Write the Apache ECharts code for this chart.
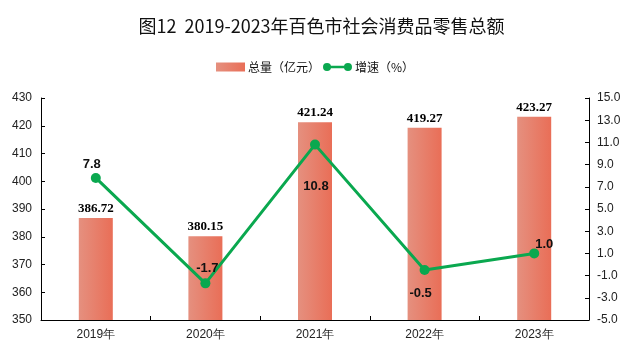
<!DOCTYPE html>
<html>
<head>
<meta charset="utf-8">
<script src="https://cdn.jsdelivr.net/npm/echarts@6/dist/echarts.min.js"></script>
<style>html,body{margin:0;padding:0;background:#fff}#c{width:643px;height:356px}</style>
</head>
<body>
<div id="c"></div>
<script>
var titleText = '图12  2019-2023年百色市社会消费品零售总额';
var categories = ['2019年', '2020年', '2021年', '2022年', '2023年'];
var totalValues = [386.72, 380.15, 421.24, 419.27, 423.27];
var growthValues = [7.8, -1.7, 10.8, -0.5, 1.0];
var rightTicks = [-5, -3, -1, 1, 3, 5, 7, 9, 11, 13, 15];
var seriesNames = ['总量（亿元）', '增速（%）'];

// label placement styles for the growth line (not data)
var growthLabelStyle = [
  {position: 'top', offset: [-4, 3]},
  {position: 'top', offset: [2, 2]},
  {position: 'bottom', offset: [1, 25]},
  {position: 'bottom', offset: [-4, 7]},
  {position: 'top', offset: [10, 8]}
];

var chart = echarts.init(document.getElementById('c'));
var axisColor = '#000';
var txt = '#222';
chart.setOption({
  animation: false,
  title: {
    text: titleText, left: 'center', top: 12,
    textStyle: {fontFamily: 'Noto Sans CJK SC', fontSize: 18, fontWeight: 'normal', color: '#111'}
  },
  legend: {
    left: 211, top: 56, itemGap: 3, itemWidth: 29, itemHeight: 9,
    textStyle: {fontFamily: 'Noto Sans CJK SC', fontSize: 12, color: '#111', padding: [0, 0, 0, -2]},
    data: [
      {name: seriesNames[0], icon: 'rect'},
      {name: seriesNames[1], icon: 'path://M0,5a5,5 0 1,1 10,0a5,5 0 1,1 -10,0Z M26,5a5,5 0 1,1 10,0a5,5 0 1,1 -10,0Z M5,3.5L31,3.5L31,6.5L5,6.5Z'}
    ]
  },
  grid: {left: 41, right: 54, top: 98, bottom: 36},
  xAxis: {
    type: 'category', data: categories,
    axisLine: {onZero: false, lineStyle: {color: axisColor, width: 1}},
    axisTick: {show: true, inside: true, length: 4, lineStyle: {color: axisColor}},
    axisLabel: {fontFamily: 'Liberation Sans', fontSize: 12, color: txt, margin: 9}
  },
  yAxis: [
    {
      type: 'value', min: 350, max: 430, interval: 10,
      axisLine: {show: true, lineStyle: {color: axisColor}},
      axisTick: {show: true, inside: true, length: 4, lineStyle: {color: axisColor}},
      splitLine: {show: false},
      axisLabel: {fontFamily: 'Liberation Sans', fontSize: 12, color: txt, margin: 9}
    },
    {
      type: 'value', min: -5, max: 15,
      axisLine: {show: true, lineStyle: {color: axisColor}},
      axisTick: {show: true, inside: true, length: 4, lineStyle: {color: axisColor}, customValues: rightTicks},
      splitLine: {show: false},
      axisLabel: {fontFamily: 'Liberation Sans', fontSize: 12, color: txt, margin: 8,
        customValues: rightTicks,
        formatter: function (v) { return Number(v).toFixed(1); }}
    }
  ],
  series: [
    {
      name: seriesNames[0], type: 'bar', yAxisIndex: 0, barWidth: 34,
      data: totalValues,
      itemStyle: {color: new echarts.graphic.LinearGradient(0, 0, 1, 0, [
        {offset: 0, color: '#E5907F'}, {offset: 1, color: '#E96E57'}])},
      label: {show: true, position: 'top', distance: 3,
        fontFamily: 'Liberation Serif', fontWeight: 'bold', fontSize: 13, color: '#000',
        formatter: function (p) { return p.value.toFixed(2); }}
    },
    {
      name: seriesNames[1], type: 'line', yAxisIndex: 1,
      data: growthValues.map(function (v, i) {
        return {value: v, label: growthLabelStyle[i]};
      }),
      symbol: 'circle', symbolSize: 10,
      lineStyle: {color: '#0AA84F', width: 3},
      itemStyle: {color: '#0AA84F'},
      label: {show: true, distance: 5,
        fontFamily: 'Liberation Sans', fontWeight: 'bold', fontSize: 13, color: '#111',
        formatter: function (p) { return p.value.toFixed(1); }},
      z: 3
    }
  ]
});
</script>
</body>
</html>
